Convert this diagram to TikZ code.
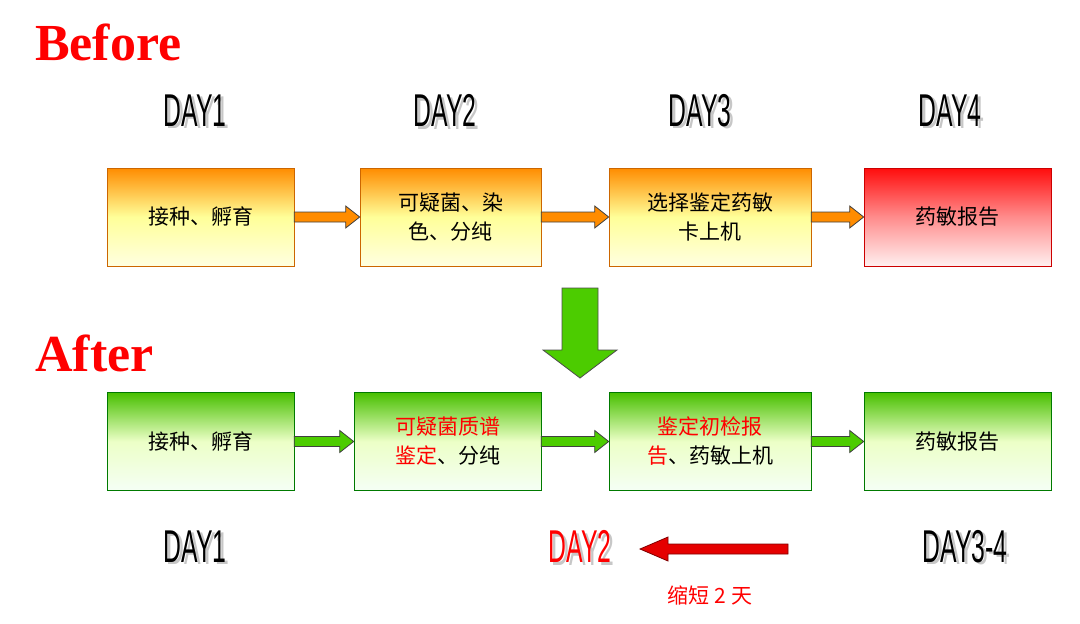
\documentclass[tikz,border=0pt]{standalone}
\usepackage{fontspec}
\newfontfamily\cjk{Noto Sans CJK SC}
\newfontfamily\dayf{Liberation Sans}
\newcommand\shadtxt[2]{\makebox[0pt][l]{\hspace{5pt}\raisebox{-2pt}{\textcolor{black!22}{#2}}}\textcolor{#1}{#2}}
\begin{document}
\begin{tikzpicture}[x=1pt,y=-1pt,
 box/.style={draw=#1!80!black,line width=0.6pt,minimum height=98pt,align=center,font=\cjk\fontsize{21}{29}\selectfont,inner sep=2pt},
 obox/.style={box=orange,top color=orange!90!yellow,bottom color=yellow!12,middle color=yellow!40},
 gbox/.style={box=green!60!black,top color=green!50!lime!75!black,bottom color=green!4,middle color=green!12!lime!22},
 rbox/.style={box=red,top color=red!95,bottom color=red!6,middle color=red!45},
 day/.style={font=\dayf\fontsize{40}{40}\selectfont,xscale=0.62,yscale=1.15,inner sep=0pt},
 harr/.style={draw=black!75,line width=0.8pt,fill=#1},
 title/.style={font=\fontspec{Liberation Serif}\bfseries\fontsize{52}{52}\selectfont,text=red,anchor=west,inner sep=0pt}]
\useasboundingbox (0,0) rectangle (1080,624);
\node[title] (before) at (35,42) {Before};
\node[title] (after) at (35,353) {After};
\foreach \n/\x/\t in {d1/195/DAY1,d2/445/DAY2,d3/700/DAY3,d4/950/DAY4}{
 \node[day] (\n) at (\x,112) {\shadtxt{black}{\t}};}
\foreach \n/\x/\t/\c in {e1/195/DAY1/black,e2/580/DAY2/red,e3/965/DAY3-4/black}{
 \node[day] (\n) at (\x,548) {\shadtxt{\c}{\t}};}
\node[obox,minimum width=187pt] (a1) at (200.5,217) {接种、孵育};
\node[obox,minimum width=181pt] (a2) at (450.5,217) {可疑菌、染\\色、分纯};
\node[obox,minimum width=202pt] (a3) at (710,217) {选择鉴定药敏\\卡上机};
\node[rbox,minimum width=187pt] (a4) at (957.5,217) {药敏报告};
\node[gbox,minimum width=187pt] (b1) at (200.5,441.5) {接种、孵育};
\node[gbox,minimum width=187pt] (b2) at (447.5,441.5) {\textcolor{red}{可疑菌质谱}\\\textcolor{red}{鉴定}、分纯};
\node[gbox,minimum width=202pt] (b3) at (710,441.5) {\textcolor{red}{鉴定初检报}\\\textcolor{red}{告}、药敏上机};
\node[gbox,minimum width=187pt] (b4) at (957.5,441.5) {药敏报告};
\foreach \p/\q/\c in {a1/a2/orange!90!yellow,a2/a3/orange!90!yellow,a3/a4/orange!90!yellow,b1/b2/green!50!lime!80!black,b2/b3/green!50!lime!80!black,b3/b4/green!50!lime!80!black}{
 \path (\p.east) coordinate (s) (\q.west) coordinate (t);
 \draw[harr=\c] ([shift={(0,-5)}]s) -- ([shift={(-14,-5)}]t) -- ([shift={(-14,-11)}]t) -- (t) -- ([shift={(-14,11)}]t) -- ([shift={(-14,5)}]t) -- ([shift={(0,5)}]s) -- cycle;}
\draw[fill=green!50!lime!80!black,draw=black!70,line width=0.8pt] (562,288) -- (598,288) -- (598,350) -- (617,350) -- (580,378) -- (543,350) -- (562,350) -- cycle;
\draw[fill=red!90!black,draw=red!50!black,line width=0.8pt] (788,544) -- (668,544) -- (668,537) -- (640,549) -- (668,561) -- (668,554) -- (788,554) -- cycle;
\node[font=\cjk\fontsize{21}{21}\selectfont,text=red] (s) at (710,595) {缩短 2 天};
\end{tikzpicture}
\end{document}
